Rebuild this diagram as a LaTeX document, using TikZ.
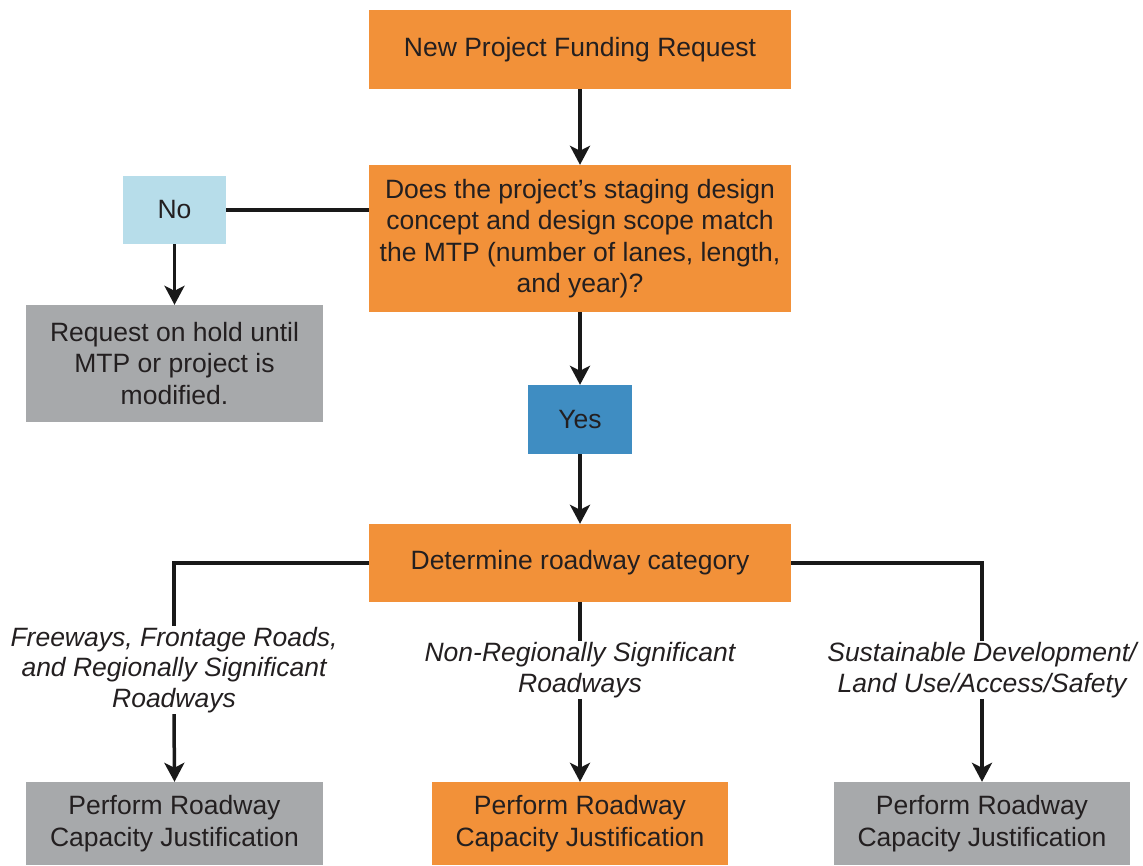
\documentclass[tikz,border=0pt]{standalone}
\usepackage{fontspec}
\setmainfont{Liberation Sans}
\usetikzlibrary{arrows.meta}
\definecolor{orng}{HTML}{F29139}
\definecolor{lblue}{HTML}{B7DDEA}
\definecolor{dblue}{HTML}{3F8DC2}
\definecolor{gry}{HTML}{A7A9AB}
\definecolor{txt}{HTML}{231F20}
\begin{document}
\begin{tikzpicture}[x=1pt,y=-1pt,
  box/.style={rectangle,inner sep=0pt,align=center,text=txt,
    font=\fontsize{26.5}{31.5}\selectfont},
  lbl/.style={inner sep=1pt,align=center,text=txt,
    font=\fontsize{26.5}{30.5}\selectfont\itshape},
  conn/.style={line width=3.5pt,draw=black!90},
  arr/.style={conn,-{Stealth[length=19pt,width=20pt,inset=5pt]}}]
\useasboundingbox[fill=white] (0,0) rectangle (1143,865);
\node[box,fill=orng,minimum width=422pt,minimum height=79pt] (top) at (580,49.5) {New Project Funding Request};
\node[box,fill=orng,minimum width=422pt,minimum height=147pt] (q) at (580,238.5) {Does the project’s staging design\\concept and design scope match\\the MTP (number of lanes, length,\\and year)?};
\node[box,fill=lblue,minimum width=103pt,minimum height=68pt] (no) at (174.5,210) {No};
\node[box,fill=gry,minimum width=297pt,minimum height=117pt] (hold) at (174.5,363.5) {Request on hold until\\MTP or project is\\modified.};
\node[box,fill=dblue,minimum width=104pt,minimum height=69pt] (yes) at (580,419.5) {Yes};
\node[box,fill=orng,minimum width=422pt,minimum height=78pt] (det) at (580,563) {Determine roadway category};
\node[box,fill=gry,minimum width=297pt,minimum height=83pt] (b1) at (174.5,823.5) {Perform Roadway\\Capacity Justification};
\node[box,fill=orng,minimum width=296pt,minimum height=83pt] (b2) at (580,823.5) {Perform Roadway\\Capacity Justification};
\node[box,fill=gry,minimum width=296pt,minimum height=83pt] (b3) at (982,823.5) {Perform Roadway\\Capacity Justification};
\node[lbl] (l1) at (174,670) {Freeways, Frontage Roads,\\and Regionally Significant\\Roadways};
\node[lbl] (l2) at (580,670) {Non-Regionally Significant\\Roadways};
\node[lbl] (l3) at (982,670) {Sustainable Development/\\Land Use/Access/Safety};
\draw[arr] (top) -- (q);
\draw[conn] (q.west |- no.east) -- (no.east);
\draw[arr] (no) -- (hold);
\draw[arr] (q) -- (yes);
\draw[arr] (yes) -- (det);
\draw[conn] (det.west) -| (l1.north);
\draw[conn] (det.east) -| (l3.north);
\draw[conn] (det.south) -- (l2.north);
\draw[arr] (l1.south) -- (b1.north);
\draw[arr] (l2.south) -- (b2.north);
\draw[arr] (l3.south) -- (b3.north);
\end{tikzpicture}
\end{document}
